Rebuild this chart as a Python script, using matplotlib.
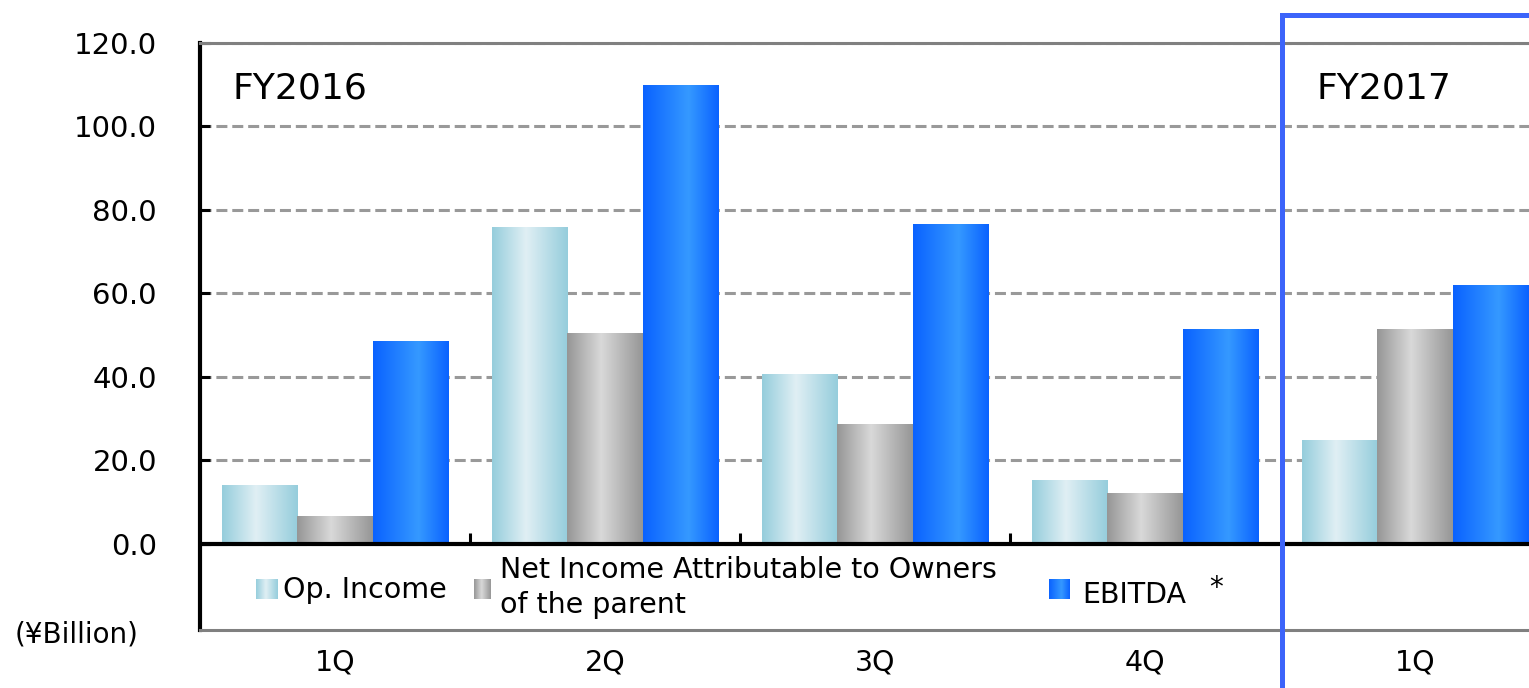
import matplotlib
matplotlib.use('Agg')
import matplotlib.pyplot as plt
import numpy as np
from matplotlib.colors import LinearSegmentedColormap
from matplotlib.patches import Rectangle

plt.rcParams['font.family'] = ['DejaVu Sans']

W, H = 1529, 688

quarters = ['1Q', '2Q', '3Q', '4Q', '1Q']
op_income = [14.1, 75.7, 40.5, 15.1, 24.9]
net_income = [6.5, 50.3, 28.7, 12.2, 51.3]
ebitda = [48.4, 109.9, 76.6, 51.3, 62.0]
y_ticks = [0, 20, 40, 60, 80, 100, 120]

# horizontal shading for each series
cm_op = LinearSegmentedColormap.from_list(
    'op', [(0, '#95cddc'), (0.45, '#e0eff4'), (1, '#95cddc')])
cm_net = LinearSegmentedColormap.from_list(
    'net', [(0, '#969696'), (0.45, '#d9d9d9'), (1, '#969696')])
cm_ebitda = LinearSegmentedColormap.from_list(
    'ebitda', [(0, '#0a62ff'), (0.6, '#3599ff'), (1, '#0a62ff')])
grad = np.linspace(0, 1, 256).reshape(1, -1)


def fx(px):
    return px / W


def fy(py):
    return 1 - py / H


fig = plt.figure(figsize=(W / 100, H / 100), dpi=100)
ax = fig.add_axes([fx(200), fy(630), (1550 - 200) / W, (630 - 43) / H])

x = np.arange(len(quarters))
bw = 0.28
series = [(op_income, -bw, cm_op), (net_income, 0, cm_net), (ebitda, bw, cm_ebitda)]
for vals, off, cmap in series:
    bars = ax.bar(x + off, vals, bw, facecolor='none', edgecolor='none')
    for r in bars:
        x0 = r.get_x()
        ax.imshow(grad, cmap=cmap, extent=[x0, x0 + r.get_width(), 0, r.get_height()],
                  aspect='auto', interpolation='bicubic', zorder=2)

ax.set_xlim(-0.5, 4.5)
ax.set_ylim(-20.6, 120)

# grid and frame
ax.set_yticks(y_ticks)
ax.set_yticklabels(['%.1f' % v for v in y_ticks], fontsize=21)
ax.yaxis.grid(True, linestyle=(0, (3.6, 1.6)), color='#999999', lw=2.2)
ax.set_axisbelow(True)
ax.tick_params(axis='y', direction='in', length=7, width=2.2, color='black', pad=31)
ax.set_xticks(x)
ax.set_xticklabels(quarters, fontsize=20.5)
ax.tick_params(axis='x', length=0, pad=13.5)

ax.spines['left'].set_linewidth(3)
ax.spines['left'].set_color('black')
for s in ['top', 'bottom']:
    ax.spines[s].set_linewidth(2.2)
    ax.spines[s].set_color('#808080')
ax.spines['right'].set_visible(False)

ax.axhline(0, color='black', lw=3, zorder=3)
ax.vlines([0.5, 1.5, 2.5], 0, 2.7, color='black', lw=2.2, zorder=3)

ax.text(-0.38, 109, 'FY2016', fontsize=26, va='center', ha='left')
ax.text(3.637, 109, 'FY2017', fontsize=26, va='center', ha='left')

# legend in the band below the zero line
for (x0, x1), cmap in [((256, 277), cm_op), ((474, 491), cm_net), ((1049, 1070), cm_ebitda)]:
    sw = fig.add_axes([fx(x0), fy(599), (x1 - x0) / W, 20 / H])
    sw.imshow(grad, cmap=cmap, aspect='auto', interpolation='bicubic')
    sw.set_axis_off()

fig.text(fx(283), fy(598), 'Op. Income', fontsize=20.5, va='baseline')
fig.text(fx(500), fy(578), 'Net Income Attributable to Owners', fontsize=20.5, va='baseline')
fig.text(fx(500), fy(613), 'of the parent', fontsize=20.5, va='baseline')
fig.text(fx(1082), fy(603), 'EBITDA', fontsize=20.5, va='baseline')
fig.text(fx(1209), fy(596), '*', fontsize=20, va='baseline')
fig.text(fx(15), fy(643), '(\u00a5Billion)', fontsize=20, va='baseline')

# FY2017 frame
fig.add_artist(Rectangle((fx(1281.5), -0.05), 1, fy(15.5) + 0.05,
                         transform=fig.transFigure, fill=False,
                         edgecolor='#3c64fa', lw=3.6, zorder=10, clip_on=False))

fig.savefig('out.png', dpi=100)
